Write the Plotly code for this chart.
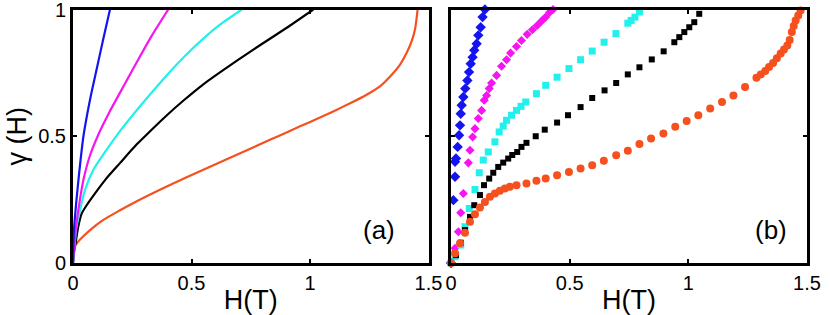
import plotly.graph_objects as go

# ---------------- panel (a): curves ----------------
blue_a_x = [0, 0.004, 0.016, 0.03, 0.044, 0.072, 0.1, 0.128, 0.156]
blue_a_y = [0, 0.13, 0.262, 0.39, 0.5, 0.645, 0.765, 0.885, 1.0]

magenta_a_x = [0, 0.004, 0.013, 0.027, 0.044, 0.072, 0.111, 0.153, 0.212, 0.269, 0.332, 0.402]
magenta_a_y = [0, 0.05, 0.143, 0.236, 0.328, 0.425, 0.515, 0.594, 0.695, 0.792, 0.896, 1.0]

cyan_a_x = [0, 0.004, 0.013, 0.03, 0.051, 0.086, 0.142, 0.198, 0.254, 0.325, 0.395, 0.465,
            0.55, 0.62, 0.712]
cyan_a_y = [0, 0.04, 0.13, 0.21, 0.289, 0.368, 0.447, 0.52, 0.586, 0.665, 0.74, 0.81,
            0.885, 0.94, 1.0]

black_a_x = [0, 0.004, 0.013, 0.022, 0.037, 0.065, 0.093, 0.142, 0.198, 0.269, 0.32, 0.395,
             0.465, 0.55, 0.62, 0.761, 0.902, 1.014]
black_a_y = [0, 0.04, 0.091, 0.143, 0.196, 0.238, 0.275, 0.335, 0.394, 0.468, 0.515, 0.582,
             0.64, 0.705, 0.752, 0.842, 0.928, 1.0]

orange_a_x = [0, 0.01, 0.03, 0.072, 0.128, 0.198, 0.269, 0.409, 0.55, 0.691, 0.831, 0.908,
              0.958, 1.028, 1.098, 1.169, 1.239, 1.295, 1.338, 1.38, 1.408, 1.429, 1.443,
              1.45, 1.454]
orange_a_y = [0.04, 0.07, 0.093, 0.13, 0.17, 0.208, 0.244, 0.308, 0.368, 0.427, 0.486, 0.518,
              0.539, 0.568, 0.598, 0.63, 0.664, 0.697, 0.736, 0.783, 0.829, 0.875, 0.921,
              0.967, 1.0]

# ---------------- panel (b): markers ----------------
blue_b_x = [0, -0.004, 0.01, 0.017, 0.017, 0.021, 0.028, 0.034, 0.038, 0.041, 0.045, 0.052,
            0.06, 0.069, 0.076, 0.083, 0.091, 0.098, 0.108, 0.115, 0.125, 0.133, 0.143]
blue_b_y = [0, 0.15, 0.248, 0.34, 0.399, 0.412, 0.458, 0.504, 0.543, 0.589, 0.622, 0.655,
            0.688, 0.72, 0.753, 0.786, 0.812, 0.839, 0.865, 0.898, 0.93, 0.97, 1.0]

magenta_b_x = [0, 0.017, 0.031, 0.041, 0.052, 0.073, 0.08, 0.091, 0.101, 0.115, 0.129, 0.14,
               0.15, 0.161, 0.171, 0.192, 0.213, 0.234, 0.251, 0.276, 0.297, 0.321, 0.343,
               0.363, 0.381, 0.399, 0.416, 0.43]
magenta_b_y = [0, 0.058, 0.123, 0.198, 0.274, 0.395, 0.445, 0.497, 0.53, 0.57, 0.602, 0.642,
               0.661, 0.688, 0.71, 0.74, 0.776, 0.802, 0.828, 0.854, 0.878, 0.902, 0.92,
               0.937, 0.954, 0.97, 0.989, 1.0]

cyan_b_x = [0, 0.017, 0.041, 0.059, 0.077, 0.101, 0.119, 0.136, 0.157, 0.185, 0.203, 0.22,
            0.234, 0.255, 0.276, 0.295, 0.315, 0.36, 0.399, 0.447, 0.497, 0.546, 0.595,
            0.645, 0.695, 0.745, 0.759, 0.775, 0.794, 0.815]
cyan_b_y = [0, 0.025, 0.071, 0.143, 0.215, 0.29, 0.356, 0.406, 0.438, 0.478, 0.517, 0.54,
            0.563, 0.583, 0.602, 0.618, 0.635, 0.668, 0.701, 0.733, 0.767, 0.802, 0.836,
            0.871, 0.905, 0.946, 0.957, 0.97, 0.99, 1.01]

black_b_x = [0, 0.021, 0.041, 0.059, 0.08, 0.098, 0.122, 0.139, 0.161, 0.178, 0.199, 0.22,
             0.241, 0.258, 0.279, 0.297, 0.318, 0.357, 0.395, 0.447, 0.493, 0.546, 0.595,
             0.647, 0.696, 0.745, 0.794, 0.846, 0.896, 0.941, 0.962, 0.983, 1.004, 1.025,
             1.046, 1.071]
black_b_y = [0, 0.031, 0.08, 0.13, 0.182, 0.228, 0.268, 0.307, 0.333, 0.356, 0.379, 0.396,
             0.412, 0.426, 0.438, 0.458, 0.474, 0.5, 0.526, 0.554, 0.583, 0.615, 0.651,
             0.681, 0.71, 0.744, 0.772, 0.803, 0.835, 0.871, 0.891, 0.911, 0.93, 0.95,
             0.983, 1.007]

orange_b_x = [0, 0.017, 0.038, 0.059, 0.08, 0.101, 0.122, 0.143, 0.164, 0.185, 0.206, 0.227,
              0.248, 0.276, 0.318, 0.36, 0.399, 0.447, 0.497, 0.546, 0.595, 0.644, 0.696,
              0.745, 0.794, 0.843, 0.895, 0.945, 0.993, 1.042, 1.092, 1.142, 1.19, 1.239,
              1.287, 1.305, 1.324, 1.34, 1.357, 1.373, 1.389, 1.403, 1.417, 1.427, 1.436,
              1.444, 1.452, 1.463, 1.473, 1.48]
orange_b_y = [0, 0.038, 0.078, 0.119, 0.163, 0.192, 0.219, 0.241, 0.261, 0.274, 0.285, 0.294,
              0.301, 0.307, 0.314, 0.324, 0.333, 0.346, 0.359, 0.373, 0.386, 0.403, 0.425,
              0.443, 0.469, 0.491, 0.511, 0.537, 0.56, 0.583, 0.609, 0.635, 0.661, 0.694,
              0.731, 0.744, 0.757, 0.773, 0.789, 0.808, 0.826, 0.842, 0.858, 0.88, 0.911,
              0.935, 0.957, 0.976, 0.996, 1.007]

x_tickvals = [0, 0.5, 1, 1.5]
x_ticktext = ["0", "0.5", "1", "1.5"]
y_tickvals = [0, 0.5, 1]
y_ticktext = ["0", "0.5", "1"]

BLUE = "#1414f0"
MAGENTA = "#f614f0"
CYAN = "#22f0ec"
BLACK = "#000000"
ORANGE = "#f6501e"

FONT = "Liberation Sans Narrow, Liberation Sans, Arial, sans-serif"

fig = go.Figure()

for xs, ys, c in [(orange_a_x, orange_a_y, ORANGE), (black_a_x, black_a_y, BLACK),
                  (cyan_a_x, cyan_a_y, CYAN), (magenta_a_x, magenta_a_y, MAGENTA),
                  (blue_a_x, blue_a_y, BLUE)]:
    fig.add_trace(go.Scatter(x=xs, y=ys, mode="lines",
                             line=dict(color=c, width=2.2, shape="spline", smoothing=0.6),
                             xaxis="x", yaxis="y", showlegend=False, cliponaxis=True))

for xs, ys, c, sym, sz in [(blue_b_x, blue_b_y, BLUE, "diamond", 8),
                           (magenta_b_x, magenta_b_y, MAGENTA, "diamond", 7),
                           (cyan_b_x, cyan_b_y, CYAN, "square", 7),
                           (black_b_x, black_b_y, BLACK, "square", 6),
                           (orange_b_x, orange_b_y, ORANGE, "circle", 8)]:
    fig.add_trace(go.Scatter(x=xs, y=ys, mode="markers",
                             marker=dict(color=c, symbol=sym, size=sz, line=dict(width=0)),
                             xaxis="x2", yaxis="y2", showlegend=False, cliponaxis=False))

axis_common = dict(showline=True, linecolor="black", linewidth=3, mirror="ticks",
                   ticks="inside", ticklen=4, tickwidth=2, tickcolor="black",
                   showgrid=False, zeroline=False, automargin=False,
                   ticklabeloverflow="allow",
                   tickfont=dict(family=FONT, size=20, color="black"))

TFONT = dict(family=FONT, size=27, color="black")

fig.update_layout(
    width=830, height=315,
    margin=dict(l=0, r=0, t=0, b=0),
    paper_bgcolor="white", plot_bgcolor="white",
    xaxis=dict(domain=[73 / 830, 428.5 / 830], range=[0, 1.5], anchor="y",
               tickvals=x_tickvals, ticktext=x_ticktext,
               title=dict(text="H(T)", font=TFONT, standoff=0),
               **axis_common),
    yaxis=dict(domain=[52 / 315, 305.5 / 315], range=[0, 1], anchor="x",
               tickvals=y_tickvals, ticktext=y_ticktext,
               title=dict(text="γ (H)", font=TFONT, standoff=4),
               **axis_common),
    xaxis2=dict(domain=[451 / 830, 807 / 830], range=[0, 1.5], anchor="y2",
                tickvals=x_tickvals, ticktext=x_ticktext,
                title=dict(text="H(T)", font=TFONT, standoff=0),
                **axis_common),
    yaxis2=dict(domain=[52 / 315, 305.5 / 315], range=[0, 1], anchor="x2",
                tickvals=y_tickvals, showticklabels=False, **axis_common),
    annotations=[
        dict(text="(a)", x=1.29, y=0.13, xref="x", yref="y", showarrow=False,
             font=dict(family=FONT, size=26, color="black")),
        dict(text="(b)", x=1.35, y=0.13, xref="x2", yref="y2", showarrow=False,
             font=dict(family=FONT, size=26, color="black")),
    ],
)

fig.write_html("out.html", config={"displayModeBar": False},
               post_script="document.body.style.margin='0px';")
